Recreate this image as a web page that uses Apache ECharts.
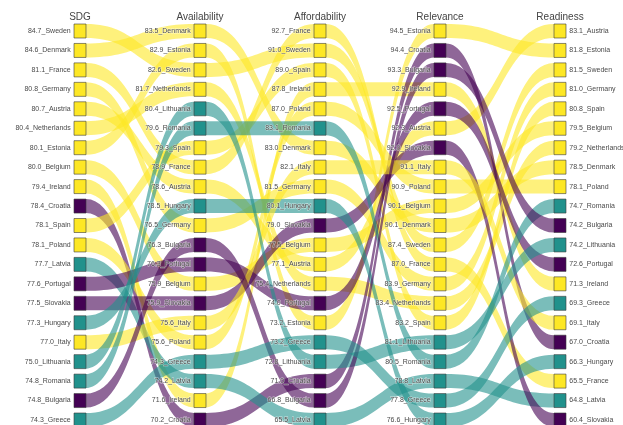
<!DOCTYPE html>
<html>
<head>
<meta charset="utf-8">
<script src="https://cdn.jsdelivr.net/npm/echarts@6/dist/echarts.min.js"></script>
<style>
html,body{margin:0;padding:0;background:#fff;}
#c{width:623px;height:425px;}
</style>
</head>
<body>
<div id="c"></div>
<script>
const dimensions = ['SDG', 'Availability', 'Affordability', 'Relevance', 'Readiness'];

const sdgCountries = ['Sweden','Denmark','France','Germany','Austria','Netherlands','Estonia','Belgium','Ireland','Croatia','Spain','Poland','Latvia','Portugal','Slovakia','Hungary','Italy','Lithuania','Romania','Bulgaria','Greece'];
const sdgValues = ['84.7','84.6','81.1','80.8','80.7','80.4','80.1','80.0','79.4','78.4','78.1','78.1','77.7','77.6','77.5','77.3','77.0','75.0','74.8','74.8','74.3'];

const availCountries = ['Denmark','Estonia','Sweden','Netherlands','Lithuania','Romania','Spain','France','Austria','Hungary','Germany','Bulgaria','Portugal','Belgium','Slovakia','Italy','Poland','Greece','Latvia','Ireland','Croatia'];
const availValues = ['83.5','82.9','82.6','81.7','80.4','79.6','79.3','78.9','78.6','78.5','76.5','76.3','76.3','75.9','75.9','75.6','75.6','74.3','74.2','71.6','70.2'];

const affordCountries = ['France','Sweden','Spain','Ireland','Poland','Romania','Denmark','Italy','Germany','Hungary','Slovakia','Belgium','Austria','Netherlands','Portugal','Estonia','Greece','Lithuania','Croatia','Bulgaria','Latvia'];
const affordValues = ['92.7','91.0','89.0','87.8','87.0','83.1','83.0','82.1','81.5','80.1','79.0','77.5','77.1','75.4','74.0','73.2','73.2','72.8','71.0','66.8','65.5'];

const relevCountries = ['Estonia','Croatia','Bulgaria','Ireland','Portugal','Austria','Slovakia','Italy','Poland','Belgium','Denmark','Sweden','France','Germany','Netherlands','Spain','Lithuania','Romania','Latvia','Greece','Hungary'];
const relevValues = ['94.5','94.4','93.3','92.9','92.5','92.3','92.0','91.1','90.9','90.1','90.1','87.4','87.0','83.9','83.4','83.2','81.1','80.5','78.8','77.8','76.6'];

const readyCountries = ['Austria','Estonia','Sweden','Germany','Spain','Belgium','Netherlands','Denmark','Poland','Romania','Bulgaria','Lithuania','Portugal','Ireland','Greece','Italy','Croatia','Hungary','France','Latvia','Slovakia'];
const readyValues = ['83.1','81.8','81.5','81.0','80.8','79.5','79.2','78.5','78.1','74.7','74.2','74.2','72.6','71.3','69.3','69.1','67.0','66.3','65.5','64.8','60.4'];

const yellowGroup = ['Sweden','Denmark','France','Germany','Austria','Netherlands','Estonia','Belgium','Ireland','Spain','Poland','Italy'];
const tealGroup = ['Latvia','Hungary','Lithuania','Romania','Greece'];
const purpleGroup = ['Croatia','Portugal','Slovakia','Bulgaria'];

const YELLOW = '#fde725', TEAL = '#21918c', PURPLE = '#440154';
function colorOf(c) {
  if (purpleGroup.includes(c)) return PURPLE;
  if (tealGroup.includes(c)) return TEAL;
  return YELLOW;
}

const columns = [
  [sdgCountries, sdgValues],
  [availCountries, availValues],
  [affordCountries, affordValues],
  [relevCountries, relevValues],
  [readyCountries, readyValues]
];

const nodes = [];
columns.forEach(function (col, d) {
  col[0].forEach(function (c, i) {
    nodes.push({
      name: dimensions[d] + '|' + c,
      depth: d,
      disp: col[1][i] + '_' + c,
      itemStyle: { color: colorOf(c), borderColor: '#3a3a3a', borderWidth: 0.6 },
      label: { position: d === 4 ? 'right' : 'left' }
    });
  });
});

const links = [];
for (let d = 0; d < 4; d++) {
  sdgCountries.forEach(function (c) {
    links.push({ source: dimensions[d] + '|' + c, target: dimensions[d + 1] + '|' + c, value: 1 });
  });
}

const LEFT = 74, TOP = 24, W = 492, H = 403, NW = 12;
const step = (W - NW) / 4;
const graphicEls = dimensions.map(function (t, d) {
  return {
    type: 'text',
    x: LEFT + d * step + NW / 2,
    y: 12,
    style: { text: t, fill: '#444', font: '10px "Liberation Sans", Arial, sans-serif', textAlign: 'center', textVerticalAlign: 'top' }
  };
});

const chart = echarts.init(document.getElementById('c'), null, { renderer: 'canvas' });
chart.setOption({
  animation: false,
  graphic: graphicEls,
  series: [{
    type: 'sankey',
    left: LEFT,
    top: TOP,
    width: W,
    height: H,
    nodeWidth: NW,
    nodeGap: 5.45,
    layoutIterations: 0,
    draggable: false,
    emphasis: { disabled: true },
    data: nodes,
    links: links,
    label: {
      show: true,
      fontSize: 7,
      color: '#4a4a4a',
      fontFamily: 'Liberation Sans, Arial, sans-serif',
      distance: 3,
      textBorderColor: 'rgba(255,255,255,0.6)',
      textBorderWidth: 1,
      formatter: function (p) { return p.data.disp; }
    },
    lineStyle: { color: 'source', opacity: 0.6, curveness: 0.5 }
  }]
});
</script>
</body>
</html>
